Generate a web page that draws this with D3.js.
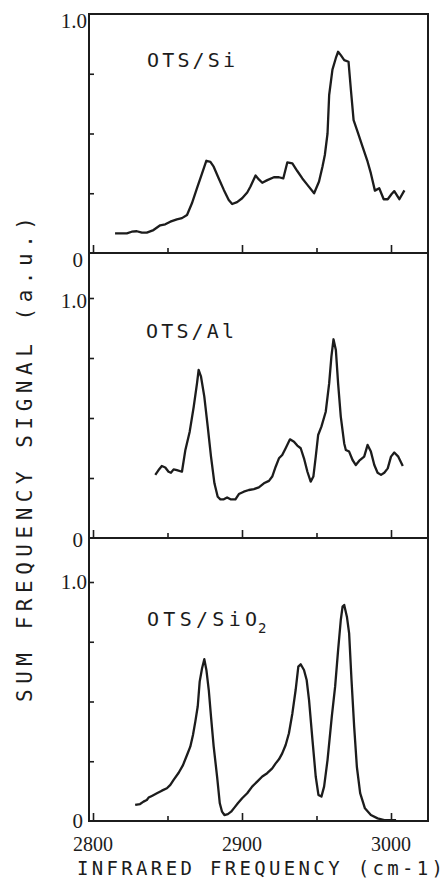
<!DOCTYPE html>
<html>
<head>
<meta charset="utf-8">
<script src="https://cdn.jsdelivr.net/npm/d3@7"></script>
<style>
  html, body { margin: 0; padding: 0; background: #fff; }
  svg { display: block; }
</style>
</head>
<body>
<svg id="chart" width="448" height="880"></svg>
<script>
// ---------------- DATA ----------------
const panelNames = ["OTS/Si", "OTS/Al", "OTS/SiO"];

const siFreq = [2814.8,2822.7,2826,2829.4,2832.8,2836.1,2840.6,2845.1,2848.5,2851.9,2856.3,2859.7,2863.1,2866.4,2869.8,2873.2,2876.1,2878.8,2881,2884.4,2887.8,2891.1,2893.4,2896.7,2900.1,2903.5,2905.7,2909.1,2911.3,2913.6,2917,2921.4,2924.8,2927.7,2930.4,2933.8,2937.1,2940.5,2943.9,2948.4,2951.7,2954,2955.6,2957.4,2958.5,2960.7,2963,2964.5,2966.3,2968.6,2971.5,2973.1,2974.9,2977.6,2980.9,2984.3,2986.5,2989.2,2992.1,2995.1,2997.8,3000.4,3002.2,3005.6,3009];
const siSignal = [0.082,0.082,0.089,0.091,0.085,0.085,0.096,0.116,0.120,0.131,0.141,0.146,0.159,0.208,0.271,0.333,0.386,0.381,0.361,0.312,0.264,0.222,0.205,0.213,0.229,0.253,0.278,0.324,0.308,0.294,0.305,0.317,0.317,0.312,0.379,0.375,0.343,0.312,0.285,0.250,0.299,0.361,0.410,0.500,0.661,0.767,0.816,0.842,0.828,0.807,0.800,0.682,0.556,0.507,0.445,0.382,0.333,0.261,0.271,0.225,0.225,0.247,0.259,0.225,0.262];

const alFreq = [2841.8,2844,2846.2,2848.5,2850.7,2852.3,2854.1,2856.3,2859.7,2862,2864.9,2867.6,2869.8,2870.9,2872.5,2874.7,2877,2879.2,2881.5,2883.7,2885.5,2887.8,2890,2892.3,2895.6,2897.9,2901.2,2904.6,2908,2911.3,2914.7,2918.1,2920.3,2922.6,2924.8,2927,2929.3,2932.2,2934.9,2937.1,2939.4,2941.6,2943.9,2946.1,2947.9,2949.5,2951.1,2953.3,2956.2,2958.5,2960,2961.4,2963,2964.5,2966.3,2968.6,2969.7,2971.9,2974.2,2976.4,2978.7,2982,2984.3,2986.5,2988.8,2991,2993.3,2995.5,2997.8,3000,3002.2,3004.9,3007.9];
const alSignal = [0.263,0.283,0.300,0.294,0.276,0.272,0.286,0.283,0.276,0.367,0.443,0.547,0.644,0.700,0.672,0.589,0.464,0.339,0.228,0.172,0.161,0.161,0.169,0.161,0.161,0.183,0.193,0.200,0.204,0.211,0.228,0.238,0.256,0.297,0.332,0.346,0.374,0.411,0.401,0.385,0.374,0.332,0.276,0.235,0.256,0.339,0.429,0.464,0.526,0.644,0.756,0.828,0.783,0.644,0.506,0.394,0.367,0.360,0.325,0.304,0.322,0.339,0.388,0.360,0.304,0.272,0.263,0.272,0.290,0.339,0.356,0.339,0.300];

const sio2Freq = [2828.3,2831.6,2833.9,2836.1,2837.3,2839.5,2842.9,2846.2,2849.6,2851.9,2854.1,2857.5,2860.4,2863.1,2865.3,2867.1,2868.7,2870.3,2871.6,2873.2,2874.7,2876.1,2877.7,2879.2,2881,2883.3,2885.1,2886.6,2888.2,2890.5,2892.7,2894.9,2897.2,2900.1,2903.5,2906.8,2910.2,2913.6,2916.9,2920.3,2922.6,2924.8,2927,2929.3,2931.5,2933.8,2936,2937.8,2939.4,2941.6,2943.4,2945,2947.3,2949.5,2951.3,2953.3,2955.1,2957.4,2960.3,2962.5,2964.5,2966.3,2967.5,2968.6,2970.4,2971.9,2973.5,2975.3,2977.1,2979.3,2982.5,2986.5,2991,2995.5,3003.4];
const sio2Signal = [0.067,0.071,0.081,0.088,0.098,0.105,0.116,0.127,0.137,0.151,0.172,0.202,0.234,0.276,0.311,0.360,0.417,0.480,0.583,0.639,0.677,0.632,0.548,0.437,0.311,0.185,0.074,0.039,0.025,0.029,0.039,0.056,0.074,0.095,0.116,0.144,0.165,0.186,0.200,0.220,0.241,0.258,0.283,0.318,0.367,0.450,0.548,0.646,0.656,0.632,0.590,0.506,0.338,0.185,0.109,0.102,0.144,0.255,0.439,0.562,0.715,0.841,0.897,0.904,0.855,0.785,0.590,0.393,0.226,0.117,0.053,0.025,0.011,0.004,0.004];

const xMajorTicks = [2800, 2900, 3000];
const xMinorTicks = [2850, 2950];
const xTickLabels = ["2800", "2900", "3000"];
const yTicks = [0.25, 0.5, 0.75, 1.0];
const yTickLabels = ["0", "1.0"];
const xAxisTitle = "INFRARED FREQUENCY (cm-1)";
const yAxisTitle = "SUM FREQUENCY SIGNAL (a.u.)";

// ---------------- LAYOUT ----------------
const svg = d3.select("#chart");
const ink = "#1c1c1c";
const left = 89, right = 428;
const x = d3.scaleLinear().domain([2800, 3000]).range([93, 391]);

const panels = [
  { name: panelNames[0], f: siFreq, s: siSignal, top: 14, y0: 253, y1: 14,
    lab: [147, 67], l1: 14, l0: 14 },
  { name: panelNames[1], f: alFreq, s: alSignal, top: 253, y0: 538, y1: 298,
    lab: [146, 338], l1: 10, l0: 9 },
  { name: panelNames[2], f: sio2Freq, s: sio2Signal, top: 538, y0: 821, y1: 582,
    lab: [147, 626], l1: 7, l0: 7, sub: "2" }
];

const g = svg.append("g");

panels.forEach((p, i) => {
  const y = d3.scaleLinear().domain([0, 1]).range([p.y0, p.y1]);

  // frame lines
  g.append("rect")
    .attr("x", left).attr("y", p.top)
    .attr("width", right - left).attr("height", p.y0 - p.top)
    .attr("fill", "none").attr("stroke", ink).attr("stroke-width", 2);

  // x ticks (inward)
  const axMaj = d3.axisBottom(x).tickValues(xMajorTicks).tickSizeInner(-8).tickSizeOuter(0).tickFormat("");
  const axMin = d3.axisBottom(x).tickValues(xMinorTicks).tickSizeInner(-5).tickSizeOuter(0).tickFormat("");
  [axMaj, axMin].forEach(ax => {
    const a = g.append("g").attr("transform", `translate(0,${p.y0})`).call(ax);
    a.select(".domain").remove();
    a.selectAll("line").attr("stroke", ink).attr("stroke-width", 1.6);
  });

  // y ticks (inward)
  const yt = yTicks.filter(v => y(v) > p.top + 2);
  const ay = g.append("g").attr("transform", `translate(${left},0)`)
    .call(d3.axisLeft(y).tickValues(yt).tickSizeInner(-5).tickSizeOuter(0).tickFormat(""));
  ay.select(".domain").remove();
  ay.selectAll("line").attr("stroke", ink).attr("stroke-width", 1.6);

  // y tick labels
  g.append("text").text(yTickLabels[1])
    .attr("x", 87).attr("y", y(1) + p.l1)
    .attr("text-anchor", "end")
    .attr("font-family", "Liberation Serif, Times New Roman, serif")
    .attr("font-size", 21).attr("fill", ink);
  g.append("text").text(yTickLabels[0])
    .attr("x", 83).attr("y", y(0) + p.l0)
    .attr("text-anchor", "end")
    .attr("font-family", "Liberation Serif, Times New Roman, serif")
    .attr("font-size", 21).attr("fill", ink);

  // curve
  const pts = p.f.map((f, k) => [f, p.s[k]]);
  g.append("path").datum(pts)
    .attr("d", d3.line().x(d => x(d[0])).y(d => y(d[1])))
    .attr("fill", "none").attr("stroke", ink)
    .attr("stroke-width", 2.3).attr("stroke-linejoin", "round");

  // panel label
  g.append("text")
    .attr("x", p.lab[0]).attr("y", p.lab[1])
    .attr("font-family", "DejaVu Sans Mono, monospace")
    .attr("font-size", 20).attr("fill", ink)
    .attr("textLength", p.sub ? 110 : 88).attr("lengthAdjust", "spacing")
    .text(p.name);
  if (p.sub) {
    g.append("text").text(p.sub)
      .attr("x", 258).attr("y", 633)
      .attr("font-family", "DejaVu Sans Mono, monospace")
      .attr("font-size", 14).attr("fill", ink);
  }
});

// x tick labels
xMajorTicks.forEach((v, i) => {
  g.append("text").text(xTickLabels[i])
    .attr("x", x(v)).attr("y", 851)
    .attr("text-anchor", "middle")
    .attr("font-family", "Liberation Serif, Times New Roman, serif")
    .attr("font-size", 22).attr("fill", ink)
    .attr("textLength", 40).attr("lengthAdjust", "spacingAndGlyphs");
});

// axis titles
g.append("text").text(xAxisTitle)
  .attr("x", 77).attr("y", 875)
  .attr("font-family", "DejaVu Sans Mono, monospace")
  .attr("font-size", 19).attr("fill", ink)
  .attr("textLength", 366).attr("lengthAdjust", "spacing");

g.append("text").text(yAxisTitle)
  .attr("transform", "translate(32,702) rotate(-90)")
  .attr("x", 0).attr("y", 0)
  .attr("font-family", "DejaVu Sans Mono, monospace")
  .attr("font-size", 21).attr("fill", ink)
  .attr("textLength", 485).attr("lengthAdjust", "spacing");
</script>
</body>
</html>
